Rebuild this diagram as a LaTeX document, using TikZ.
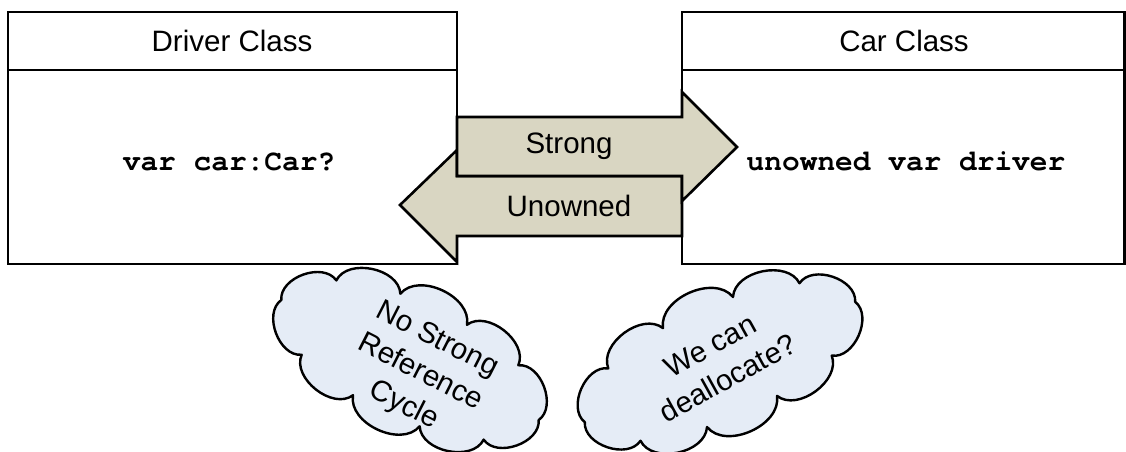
\documentclass[tikz,border=0pt]{standalone}
\usepackage{fontspec}
\setmainfont{Liberation Sans}
\newfontfamily\codefont{TeX Gyre Cursor}
\definecolor{arrowfill}{RGB}{217,214,194}
\definecolor{cloudfill}{RGB}{229,236,246}
\begin{document}
\begin{tikzpicture}[x=1pt,y=-1pt,
  outline/.style={draw=black, line width=2.6pt, line join=miter},
  label/.style={font=\fontsize{29.5}{37}\selectfont, inner sep=0pt},
  code/.style={font=\codefont\bfseries\fontsize{29.5}{34}\selectfont, inner sep=0pt},
  cloudline/.style={draw=black, line width=2.4pt, fill=cloudfill, line join=round},
]
\useasboundingbox (0,0) rectangle (1126,452);
\clip (0,0) rectangle (1126,452);

% class boxes with a header row
\draw[outline] (8,12) rectangle (457,264);
\draw[outline] (8,70) -- (457,70);
\draw[outline] (682,12) rectangle (1124.5,264);
\draw[outline] (682,70) -- (1124.5,70);

% reference arrows between the classes
\draw[outline, fill=arrowfill] (457,176) -- (457,150) -- (400,205) -- (457,262)
  -- (457,236) -- (682,236) -- (682,176) -- cycle;
\draw[outline, fill=arrowfill] (457,117) -- (682,117) -- (682,92) -- (737,147)
  -- (682,201) -- (682,176) -- (457,176) -- cycle;

\node[label] (drvT) at (232,41) {Driver Class};
\node[label] (carT) at (904,41) {Car Class};
\node[code, anchor=base] (drvV) at (229,170) {var car:Car?};
\node[code, anchor=base] (carV) at (906,170) {unowned var driver};
\node[label] (strongT) at (569,146) {Strong};
\node[label] (unownedT) at (569,206) {Unowned};

% thought clouds: puffs strung along a tilted ellipse
\begin{scope}[shift={(410,360)}, rotate=-25]
  \filldraw[cloudline] (142,0)
    \foreach \t in {45,75,105,135,180,225,255,285,315,360}
      { to[bend left=75] ({142*cos(\t)},{58*sin(\t)}) } -- cycle;
\end{scope}
\node[label, align=center, rotate=-27] (c1T) at (420,373) {No Strong\\Reference\\Cycle};

\begin{scope}[shift={(720,362)}, rotate=24]
  \filldraw[cloudline] (148,0)
    \foreach \t in {45,75,105,135,180,225,255,285,315,360}
      { to[bend left=75] ({148*cos(\t)},{56*sin(\t)}) } -- cycle;
\end{scope}
\node[label, align=center, rotate=29] (c2T) at (719,362) {We can\\deallocate?};
\end{tikzpicture}
\end{document}
